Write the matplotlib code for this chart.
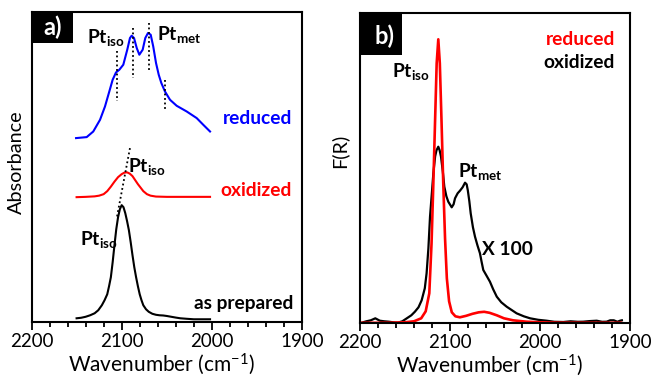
import matplotlib
matplotlib.use("Agg")
import matplotlib.pyplot as plt
from matplotlib.patches import Rectangle

plt.rcParams['font.family'] = ['Lato', 'DejaVu Sans']
plt.rcParams['mathtext.fontset'] = 'custom'
plt.rcParams['mathtext.rm'] = 'Lato'
plt.rcParams['mathtext.bf'] = 'Lato:bold'
plt.rcParams['mathtext.it'] = 'Lato:italic'

# ---- panel a: absorbance spectra (arbitrary units, stacked) ----
prep_wn = [2150, 2145, 2140, 2135, 2130, 2126, 2122, 2119, 2116, 2114, 2112, 2110,
           2108, 2106, 2104, 2102, 2100, 2098, 2096, 2094, 2092, 2090, 2088, 2086,
           2084, 2082, 2080, 2078, 2076, 2073, 2070, 2066, 2062, 2058, 2054, 2050,
           2045, 2040, 2035, 2028, 2020, 2010, 2002]
prep_abs = [4, 4.5, 5.5, 7, 9, 12, 17, 22, 28, 36, 45, 60,
            77, 93, 105, 113, 117, 115, 109, 101, 92, 80, 67, 55,
            45, 36, 28, 22, 17, 13, 10.5, 8.5, 7.5, 7, 6.8, 6.3,
            5.5, 4.7, 4, 3.5, 3, 3, 3]

oxid_wn = [2150, 2140, 2130, 2125, 2120, 2116, 2112, 2108, 2104, 2100, 2097, 2094,
           2091, 2088, 2085, 2082, 2079, 2076, 2072, 2068, 2062, 2050, 2030, 2002]
oxid_abs = [125, 125.3, 125.8, 126.5, 128, 131, 135.5, 140.5, 145, 148, 149.5, 149.8,
            148.5, 146, 142, 138, 134.5, 131, 128, 126.5, 125.6, 125.3, 125.3, 125.3]

red_wn = [2150.6, 2138.8, 2131.5, 2124, 2118.5, 2113.7, 2110, 2106.3, 2102.6, 2098.2,
          2093.8, 2090.8, 2088.9, 2086.3, 2083.3, 2080.4, 2076.7, 2073.8, 2070.8,
          2067.8, 2065, 2061.9, 2058.9, 2056, 2052, 2046.4, 2039, 2027.9, 2016.8,
          2009.5, 2002]
red_abs = [184, 185, 190.6, 202.3, 215.6, 230.6, 242.3, 249.6, 252.3, 257.3,
           272.3, 284, 286.3, 284, 274, 267.3, 272.3, 284, 289,
           287.3, 275.6, 259, 247.3, 239, 230.6, 222.3, 216.3, 210.6, 204,
           197.3, 190.6]

# ---- panel b: Kubelka-Munk spectra ----
kmr_wn = [2200, 2170, 2150, 2140, 2132, 2127, 2123, 2120.5, 2118.5, 2116.5, 2114.8,
          2113, 2111.3, 2109.5, 2107.5, 2105.5, 2103.5, 2101, 2098, 2094, 2089, 2082,
          2075, 2068, 2062, 2056, 2048, 2040, 2030, 2015, 2000, 1980, 1940, 1910]
kmr_f = [0.5, 0.5, 1, 2, 5, 12, 30, 80, 140, 205, 260,
         284, 260, 205, 140, 85, 45, 22, 11, 7, 6, 7.5,
         9.5, 11, 11.5, 10.5, 8, 5, 3, 1.6, 1, 0.6, 0.5, 0.5]

kmo_wn = [2198, 2193, 2188, 2183, 2178, 2173, 2168, 2163, 2158, 2153, 2148, 2143,
          2139, 2135, 2131.5, 2128, 2126, 2124, 2122.2, 2120, 2118.5, 2116.5, 2115,
          2113, 2111.5, 2110, 2108, 2106.3, 2104, 2101.9, 2098.1, 2096, 2094.4,
          2091.5, 2088.9, 2086, 2083.3, 2081.5, 2080.2, 2078.5, 2077, 2074.5,
          2072.2, 2069.5, 2066.7, 2065, 2063, 2059, 2055.6, 2052, 2048, 2043, 2037,
          2031, 2026, 2018, 2011, 2002, 1992.6, 1984, 1974, 1966, 1958, 1952, 1945,
          1937, 1931, 1926, 1922, 1918, 1914, 1911, 1909]
kmo_f = [0.6, 2, 3, 5, 2.6, 2, 1.6, 1, 0.6, 2, 5, 8,
         11.6, 16, 23, 35, 50, 75, 106.6, 132, 150, 167, 173,
         176.6, 173, 166.6, 152, 136.6, 127, 121.6, 116, 119, 125,
         130, 132.6, 136, 140.6, 139, 133, 122, 110, 96,
         86.6, 78, 70, 62, 53.3, 47, 41.6, 34, 26.6, 21, 16.6,
         13, 10, 7, 5, 3.5, 2.6, 1.5, 1.3, 2, 1.5, 1.6, 2.2,
         2.6, 1.5, 1.6, 3, 3, 1.5, 2.6, 3]

fig = plt.figure(figsize=(6.51, 3.78), dpi=100)
axa = fig.add_axes([0.0484, 0.1474, 0.4155, 0.8209])
axb = fig.add_axes([0.5530, 0.1447, 0.4147, 0.8201])

for ax in (axa, axb):
    ax.set_xlim(2200, 1900)
    ax.set_ylim(0, 310)
    ax.set_xticks([2200, 2100, 2000, 1900])
    ax.set_xticks(range(1900, 2201, 20), minor=True)
    ax.set_yticks([])
    ax.tick_params(axis='x', which='major', direction='out', length=5.5, width=1.3,
                   labelsize=13.5, pad=2.5)
    ax.tick_params(axis='x', which='minor', direction='out', length=3.5, width=1.3)
    for s in ax.spines.values():
        s.set_linewidth(1.5)
    ax.set_xlabel('Wavenumber (cm$^{\\mathregular{-1}}$)', fontsize=15)
    ax.xaxis.set_label_coords(0.48, -0.093)

# panel a
axa.plot(prep_wn, prep_abs, color='black', lw=1.5)
axa.plot(oxid_wn, oxid_abs, color='red', lw=1.5)
axa.plot(red_wn, red_abs, color='blue', lw=1.5)

dots = dict(color='black', lw=1.3, ls=(0, (1, 1.5)))
axa.plot([2104.8, 2104.8], [270.6, 220.6], **dots)
axa.plot([2087.8, 2087.8], [294, 244], **dots)
axa.plot([2069.7, 2069.7], [299, 249.6], **dots)
axa.plot([2052, 2052], [242.3, 212.3], **dots)
axa.plot([2090.8, 2105.5], [174, 104], **dots)

bold = dict(fontsize=13.8, fontweight='bold')
axa.text(2139, 279, r'$\mathbf{Pt_{iso}}$', ha='left', va='baseline', **bold)
axa.text(2060.8, 282, r'$\mathbf{Pt_{met}}$', ha='left', va='baseline', **bold)
axa.text(2093, 150.6, r'$\mathbf{Pt_{iso}}$', ha='left', va='baseline', **bold)
axa.text(2146.2, 77, r'$\mathbf{Pt_{iso}}$', ha='left', va='baseline', **bold)
axa.text(1911, 198, 'reduced', color='blue', ha='right', va='baseline', **bold)
axa.text(1911, 126, 'oxidized', color='red', ha='right', va='baseline', **bold)
axa.text(1910, 13, 'as prepared', color='black', ha='right', va='baseline', **bold)
axa.set_ylabel('Absorbance', fontsize=14.3)
axa.yaxis.set_label_coords(-0.025, 0.517)

axa.add_patch(Rectangle((0, 0.9), 0.153, 0.1, transform=axa.transAxes,
                        facecolor='black', edgecolor='none', clip_on=False, zorder=5))
axa.text(0.077, 0.95, 'a)', transform=axa.transAxes, color='white', fontsize=17,
         fontweight='bold', ha='center', va='center', zorder=6)

# panel b
axb.plot(kmo_wn, kmo_f, color='black', lw=1.6)
axb.plot(kmr_wn, kmr_f, color='red', lw=1.9)

axb.text(2164.4, 246.6, r'$\mathbf{Pt_{iso}}$', ha='left', va='baseline', **bold)
axb.text(2091.1, 146.6, r'$\mathbf{Pt_{met}}$', ha='left', va='baseline', **bold)
axb.text(2064.8, 68.3, 'X 100', ha='left', va='baseline', **bold)
axb.text(1916.7, 278, 'reduced', color='red', ha='right', va='baseline', **bold)
axb.text(1916.7, 255, 'oxidized', color='black', ha='right', va='baseline', **bold)
axb.set_ylabel('F(R)', fontsize=14.3)
axb.yaxis.set_label_coords(-0.045, 0.556)

axb.add_patch(Rectangle((0, 0.865), 0.154, 0.135, transform=axb.transAxes,
                        facecolor='black', edgecolor='none', clip_on=False, zorder=5))
axb.text(0.089, 0.925, 'b)', transform=axb.transAxes, color='white', fontsize=17,
         fontweight='bold', ha='center', va='center', zorder=6)

fig.savefig('out.png', dpi=100)
